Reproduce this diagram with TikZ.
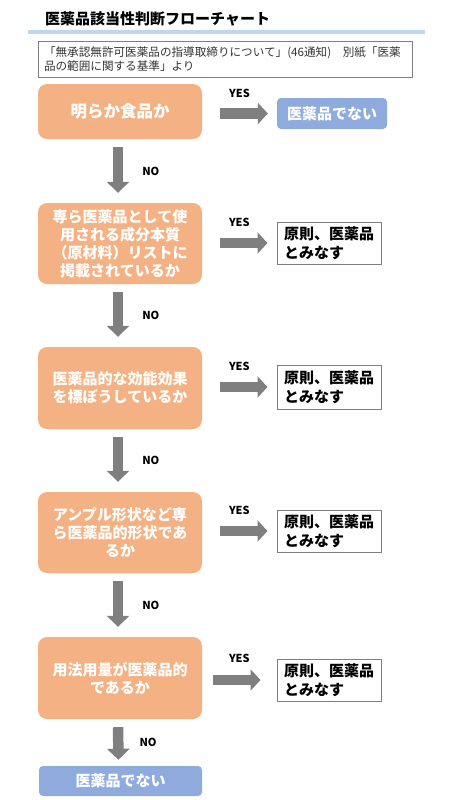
\documentclass[tikz,border=0pt]{standalone}
\usepackage{fontspec}
\setmainfont{Noto Sans CJK JP}
\usetikzlibrary{positioning,arrows.meta}
\definecolor{qorange}{HTML}{F4B183}
\definecolor{nblue}{HTML}{8FAADC}
\definecolor{lineblue}{HTML}{BDD7EE}
\definecolor{agray}{HTML}{7F7F7F}

\begin{document}
\begin{tikzpicture}[
    x=1pt, y=-1pt,
    question/.style={rectangle, fill=qorange, rounded corners=9pt, minimum width=164pt, inner sep=0pt, align=center, text=white, font=\fontsize{15}{18}\selectfont\bfseries},
    notdrug/.style={rectangle, fill=nblue, rounded corners=4pt, minimum height=31pt, inner sep=0pt, text=white, font=\fontsize{15}{18}\selectfont\bfseries},
    deemed/.style={rectangle, draw=agray, line width=1pt, minimum width=104pt, minimum height=42pt, inner sep=0pt, align=left, font=\fontsize{15}{19}\selectfont\bfseries},
    yesarrow/.style={draw=agray, line width=10.5pt, -{Triangle[width=21pt,length=10pt]}, shorten <=18pt, shorten >=9pt},
    noarrow/.style={draw=agray, line width=10.5pt, -{Triangle[width=22pt,length=11pt]}, shorten <=8pt, shorten >=10pt},
    lbl/.style={inner sep=0pt, font=\fontsize{11}{13}\selectfont\bfseries}
]
    \useasboundingbox (0,0) rectangle (450,800);

    % Title
    \node[anchor=west, inner sep=0pt, font=\fontsize{15}{18}\selectfont\bfseries] (title) at (45,19) {医薬品該当性判断フローチャート};
    \draw[lineblue, line width=4pt] (28,32) -- (425,32);

    % Source
    \node[rectangle, draw=agray, line width=0.8pt, text width=362pt, minimum height=36pt, inner xsep=6pt, inner ysep=0pt, align=left, text=black!80, font=\fontsize{11.6}{14}\selectfont] (src) at (225,59) {
        「無承認無許可医薬品の指導取締りについて」(46通知)　別紙「医薬\\
        品の範囲に関する基準」より
    };

    % Questions
    \node[question, minimum height=55pt, font=\fontsize{16.5}{20}\selectfont\bfseries] (q1) at (120,111.5) {明らか食品か};
    \node[question, minimum height=81pt] (q2) at (120,243.5) {
        専ら医薬品として使\\
        用される成分本質\\
        （原材料）リストに\\
        掲載されているか
    };
    \node[question, minimum height=82pt] (q3) at (120,388) {
        医薬品的な効能効果\\
        を標ぼうしているか
    };
    \node[question, minimum height=81pt] (q4) at (120,532.5) {
        アンプル形状など専\\
        ら医薬品的形状であ\\
        るか
    };
    \node[question, minimum height=82pt] (q5) at (120,678) {
        用法用量が医薬品的\\
        であるか
    };

    % Results
    \node[notdrug, minimum width=110pt] (n1) at (332,113.5) {医薬品でない};
    \node[notdrug, minimum width=163pt, minimum height=30pt] (n2) at (120.5,781) {医薬品でない};
    \node[deemed] (d2) at (329,243) {原則、医薬品\\とみなす};
    \node[deemed, minimum height=44pt] (d3) at (329,387) {原則、医薬品\\とみなす};
    \node[deemed] (d4) at (329,531) {原則、医薬品\\とみなす};
    \node[deemed] (d5) at (329,680) {原則、医薬品\\とみなす};

    % YES
    \draw[yesarrow] (q1.east |- n1.west) -- (n1.west) node[midway, above=11pt, lbl] {YES};
    \draw[yesarrow] (q2.east |- d2.west) -- (d2.west) node[midway, above=11pt, lbl] {YES};
    \draw[yesarrow] (q3.east |- d3.west) -- (d3.west) node[midway, above=11pt, lbl] {YES};
    \draw[yesarrow] (q4.east |- d4.west) -- (d4.west) node[midway, above=11pt, lbl] {YES};
    \draw[yesarrow, shorten <=11pt, shorten >=16pt] (q5.east |- d5.west) -- (d5.west) node[midway, above=12pt, lbl] {YES};

    % NO
    \draw[noarrow] ([xshift=-2pt]q1.south) -- ([xshift=-2pt]q2.north) node[midway, right=19pt, lbl] {NO};
    \draw[noarrow] ([xshift=-2pt]q2.south) -- ([xshift=-2pt]q3.north) node[midway, right=19pt, lbl] {NO};
    \draw[noarrow] ([xshift=-2pt]q3.south) -- ([xshift=-2pt]q4.north) node[midway, right=19pt, lbl] {NO};
    \draw[noarrow] ([xshift=-2pt]q4.south) -- ([xshift=-2pt]q5.north) node[midway, right=19pt, lbl] {NO};
    \draw[noarrow, shorten >=6pt] ([xshift=-2pt]q5.south) -- ([xshift=-2pt]n2.north) node[midway, right=16pt, lbl] {NO};
\end{tikzpicture}
\end{document}
